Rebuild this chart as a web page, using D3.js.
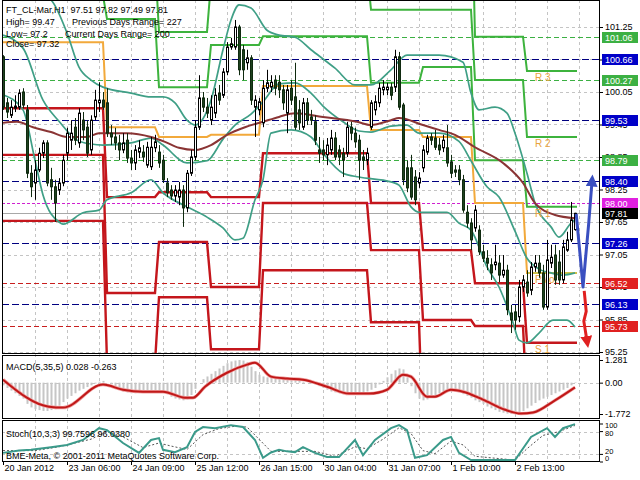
<!DOCTYPE html>
<html><head><meta charset="utf-8">
<script src="https://cdnjs.cloudflare.com/ajax/libs/d3/7.8.5/d3.min.js"></script>
<style>
body{margin:0;background:#fff}
svg{display:block}
text{font-family:"Liberation Sans",Arial,sans-serif;font-size:9px;fill:#000}
</style></head><body>
<svg id="c" width="640" height="480"></svg>
<script>
// ---------------- DATA ----------------
const headerLines = [["FT_CL-Mar,H1  97.51 97.82 97.49 97.81",""],["High= 99.47","Previous Days Range= 227"],["Low= 97.2","Current Days Range= 200"],["Close= 97.32",""]];
const timeLabels = ["20 Jan 2012","23 Jan 06:00","24 Jan 09:00","25 Jan 12:00","26 Jan 15:00","30 Jan 04:00","31 Jan 07:00","1 Feb 10:00","2 Feb 13:00"];
const timeIdx = [0,16,32,48,64,80,96,112,128];
const priceTicks = [101.25,100.65,100.05,99.45,98.85,98.25,97.65,97.05,96.45,95.85,95.25];

const open = [100.70,99.85,99.62,99.75,99.77,100.05,99.72,98.55,98.37,98.61,
98.92,99.11,98.43,98.30,98.24,98.37,98.92,99.16,99.40,99.11,
99.53,99.40,98.98,99.59,99.85,99.90,99.85,99.29,99.22,99.11,
98.98,99.16,98.83,98.74,98.94,98.94,98.70,98.67,99.02,98.94,
98.79,98.37,98.24,98.13,98.11,98.24,97.91,98.55,98.85,99.40,
99.94,99.77,99.53,99.66,100.03,99.99,100.42,100.88,100.88,101.25,
100.83,100.59,100.68,99.77,99.72,99.48,100.12,100.14,100.27,100.23,
100.09,99.66,100.12,99.96,99.72,99.40,99.85,99.59,99.50,98.98,
98.98,98.89,98.98,99.20,98.98,98.92,98.92,99.40,99.29,99.16,
98.85,98.79,99.40,99.72,99.85,100.09,100.09,100.14,100.14,100.70,
99.81,98.65,98.65,98.48,98.37,98.65,98.94,99.22,99.20,99.07,
99.02,99.02,98.76,98.61,98.61,98.43,97.83,97.63,97.54,97.50,
97.10,96.98,96.86,96.86,96.89,96.67,96.76,95.97,95.99,95.90,
96.45,96.54,96.39,96.82,96.89,96.71,96.08,96.89,97.04,96.91,
96.58,97.13,97.32,97.51];
const high = [100.73,99.94,99.90,99.99,100.10,100.12,99.81,98.70,98.79,99.02,
99.16,99.16,98.65,98.43,98.46,98.89,99.39,99.53,99.57,99.75,
99.68,99.53,99.62,100.09,100.23,100.05,100.12,99.44,99.39,99.26,
99.29,99.29,98.98,99.07,99.16,99.07,99.13,99.22,99.26,99.07,
98.89,98.46,98.33,98.33,98.39,98.33,98.61,98.98,99.53,100.36,
100.05,99.94,99.99,100.12,100.18,100.49,100.97,101.05,101.38,101.29,
100.92,100.83,100.73,99.99,99.94,100.27,100.46,100.36,100.36,100.36,
100.18,100.18,100.27,100.59,99.90,99.94,99.94,99.72,99.62,99.22,
99.16,99.20,99.35,99.31,99.07,99.02,99.50,99.50,99.39,99.26,
98.98,99.02,99.90,99.99,100.22,100.27,100.22,100.22,100.83,100.79,
99.85,98.79,98.89,98.61,98.57,99.07,99.26,99.29,99.35,99.20,
99.26,99.44,98.89,98.70,98.70,98.52,97.96,97.72,97.96,97.59,
97.23,97.13,96.98,97.23,97.04,97.04,96.86,96.12,96.12,96.58,
96.67,96.76,96.91,97.04,97.04,96.86,97.32,97.23,97.23,97.13,
97.32,97.47,98.02,97.82];
const low = [99.72,99.57,99.57,99.68,99.72,99.75,98.46,98.11,98.06,98.57,
98.83,98.31,98.06,97.65,98.15,98.31,98.79,98.98,99.07,99.02,
99.16,98.85,98.89,99.53,99.68,99.72,99.22,99.07,98.98,98.79,
98.92,98.74,98.61,98.61,98.83,98.76,98.65,98.61,98.94,98.65,
98.37,98.11,98.06,98.02,97.96,97.56,97.83,98.50,98.79,99.35,
99.68,99.57,99.44,99.57,99.81,99.94,100.36,100.83,100.83,100.36,
100.27,100.46,99.81,99.22,99.62,99.40,100.05,100.05,99.99,99.94,
99.72,99.29,99.81,99.35,99.35,99.35,99.44,99.44,99.07,98.74,
98.79,98.70,98.89,98.79,98.70,98.48,98.85,99.16,99.02,98.43,
98.61,98.70,99.35,99.62,99.77,99.99,99.99,99.90,100.05,99.72,
98.33,98.20,98.06,97.96,98.28,98.57,98.89,99.07,98.98,98.89,
98.94,98.67,98.46,98.48,98.33,97.82,97.54,97.13,97.47,97.04,
96.91,96.76,96.58,96.76,96.54,96.62,95.93,95.60,95.66,95.80,
96.36,96.27,96.30,96.73,96.62,96.03,96.03,96.80,96.49,96.49,
96.52,97.10,97.28,97.49];
const close = [99.77,99.68,99.77,99.79,100.03,99.81,98.55,98.30,98.61,98.92,
99.11,98.37,98.30,98.00,98.37,98.79,99.29,99.29,99.16,99.66,
99.35,98.92,99.53,99.90,99.90,99.77,99.29,99.22,99.11,98.98,
99.11,98.83,98.74,98.98,99.02,98.85,99.03,99.03,99.13,98.74,
98.43,98.19,98.13,98.24,98.24,97.91,98.55,98.85,99.40,99.94,
99.77,99.66,99.77,99.99,99.90,100.42,100.88,100.94,101.25,100.46,
100.46,100.68,99.90,99.90,99.87,100.12,100.22,100.23,100.12,100.09,
99.85,100.09,99.90,99.40,99.48,99.85,99.53,99.53,99.16,98.92,
98.89,99.07,99.20,98.85,98.85,98.79,99.40,99.29,99.13,98.79,
98.79,98.92,99.85,99.87,100.12,100.14,100.14,99.99,100.70,99.77,
98.43,98.28,98.11,98.06,98.46,98.98,99.20,99.16,99.03,98.98,
99.16,98.74,98.55,98.57,98.43,97.87,97.63,97.32,97.87,97.10,
96.98,96.89,96.71,96.91,96.67,96.76,96.03,95.84,95.84,96.45,
96.58,96.34,96.82,96.89,96.71,96.08,96.95,97.00,96.58,96.58,
97.19,97.32,97.69,97.81];

// Bollinger bands and moving average, vertices [bar index, price]
const bbUpper = [[0,102.21],[7,101.93],[12,101.75],[16,101.14],[19,100.51],[22,100.27],[25,100.14],[32,100.03],[37,99.96],[40,99.96],[43,99.85],[46,99.53],[48,99.44],[52,99.90],[55,100.83],[57,101.38],[59,101.66],[62,101.60],[66,101.19],[69,101.10],[73,101.06],[77,100.83],[83,100.49],[88,100.18],[92,100.18],[97,100.46],[101,100.73],[109,100.73],[115,100.60],[117,100.03],[119,99.72],[123,99.77],[126,99.66],[128,99.29],[131,98.55],[133,98.00],[137,97.56],[139,97.37],[142,97.63],[143,97.69]];
const bbMiddle = [[0,101.10],[5,100.86],[10,99.90],[14,99.51],[19,99.14],[25,99.07],[32,99.11],[37,99.20],[40,99.07],[46,98.74],[51,98.78],[55,99.18],[58,99.44],[62,99.64],[65,99.87],[69,100.20],[73,100.22],[77,100.03],[80,99.79],[85,99.50],[89,99.33],[92,99.31],[97,99.42],[101,99.44],[104,99.29],[109,99.29],[114,99.14],[117,98.78],[121,98.30],[124,98.11],[128,97.48],[131,96.98],[134,96.78],[137,96.71],[140,96.67],[143,96.71]];
const bbLower = [[0,100.00],[5,99.72],[8,98.79],[10,98.15],[14,97.65],[15,97.61],[20,97.82],[24,97.87],[26,98.06],[32,98.19],[37,98.43],[40,98.19],[46,97.93],[51,97.74],[55,97.54],[58,97.32],[60,97.35],[63,98.06],[65,98.43],[67,99.29],[72,99.35],[77,99.22],[80,98.92],[85,98.55],[89,98.48],[97,98.39],[99,98.33],[102,97.93],[104,97.83],[111,97.83],[114,97.63],[117,97.50],[121,96.82],[124,96.45],[127.5,95.79],[129,95.47],[131,95.42],[134,95.60],[137.5,95.84],[141,95.84],[143,95.71]];
const maLine = [[0,99.48],[3.5,99.50],[7.5,99.40],[12,99.31],[16,99.22],[21,99.22],[24,99.29],[31,99.29],[37,99.22],[40.5,99.13],[44,99.02],[48,98.98],[52,99.07],[56,99.26],[60.5,99.40],[65,99.50],[69,99.59],[73,99.66],[80,99.59],[88.5,99.50],[92,99.44],[97,99.53],[99,99.57],[105,99.44],[109,99.35],[113,99.26],[118,99.03],[125,98.74],[130,98.37],[133,98.00],[138,97.78],[143,97.72]];

// daily pivot levels per segment
const segStart = [0,26,39,52,65,92,105,118,131];
const levP  = [100.97,99.40,99.22,99.26,100.16,99.35,99.22,98.00,96.71];
const levR1 = [101.83,101.40,100.14,100.92,101.08,100.22,100.51,98.79,97.93];
const levR2 = [102.70,102.50,101.16,102.07,102.32,101.57,101.57,100.27,99.22];
const levR3 = [103.50,104.00,102.08,103.70,103.20,102.44,104.30,101.07,100.44];
const levS1 = [99.75,98.11,98.20,98.11,98.92,98.00,97.13,96.52,95.42];
const levS2 = [98.89,96.34,97.28,96.45,98.00,97.13,95.84,95.73,94.20];
const levS3 = [97.67,95.05,96.26,95.30,96.76,95.80,93.70,94.26,93.00];
const lastDayNames = ["R 3","R 2","R 1","Pivot","S 1"];

// horizontal marked levels (value, kind)
const markLevels = [101.06,100.66,100.27,99.53,98.79,98.40,98.00,97.81,97.26,96.52,96.13,95.73];
const markKinds  = ["r","m","r","m","r","m","p","bid","m","s","m","s"];

// forecast arrows
const arrowUp = [[143.3,97.80],[144.2,97.10],[145,96.45],[145.6,96.95],[146.4,97.60],[147.2,98.35]];
const arrowDown = [[145.3,96.38],[145.8,96.00],[145.2,95.82],[145.9,95.50]];

// MACD
const macdLabel = "MACD(5,35,5) 0.028 -0.263";
const macdTicks = [1.281,0,-1.772];
const macdTickText = ["1.281","0.00","-1.772"];
const macdHist = [-0.15,-0.3,-0.45,-0.6,-0.75,-0.9,-1.2,-1.4,-1.5,-1.55,-1.6,-1.6,-1.55,-1.5,-1.3,-1.1,-0.9,-0.75,-0.6,-0.45,-0.35,-0.25,-0.15,-0.05,0.05,0.1,
0.0,-0.1,-0.25,-0.4,-0.5,-0.55,-0.6,-0.6,-0.55,-0.5,-0.45,
-0.45,-0.45,-0.5,-0.55,-0.65,-0.8,-0.9,-0.95,-1.0,-0.95,-0.7,
-0.35,0.0,
0.2,0.35,0.5,0.65,0.8,0.95,
1.1,1.2,1.25,1.28,1.25,1.15,
0.9,0.65,0.45,0.35,0.3,0.3,
0.3,0.25,0.25,0.2,0.2,0.15,0.1,0.05,0.0,-0.05,-0.1,
-0.2,-0.3,-0.4,-0.5,-0.55,-0.6,-0.65,-0.65,-0.6,-0.6,-0.6,-0.55,-0.5,
-0.4,-0.3,-0.1,0.1,0.3,0.5,0.7,0.8,0.75,0.3,-0.2,-0.6,
-0.9,-1.0,-0.95,-0.85,-0.75,-0.6,-0.5,-0.45,-0.45,-0.5,-0.55,-0.65,-0.75,
-0.85,-1.0,-1.1,-1.2,-1.35,-1.45,-1.55,-1.65,-1.7,-1.75,-1.77,-1.75,-1.7,-1.6,
-1.45,-1.3,-1.15,-1.0,-0.9,-0.8,-0.7,-0.6,-0.5,-0.4,-0.3,-0.15,0.028];
const macdSignal = [[0,0.17],[11.5,-1.36],[15,-1.41],[25,-0.11],[30,-0.40],[35,-0.51],[40,-0.51],[45.5,-0.85],[47.5,-0.85],[50.5,-0.23],[56,0.56],[61,1.02],[63,1.13],[67,0.34],[71,0.23],[75,0.17],[81,-0.23],[86.5,-0.62],[91.5,-0.62],[96,-0.40],[100,0.45],[102,0.34],[106,-0.79],[108,-0.79],[112,-0.40],[115,-0.51],[120,-0.96],[125.5,-1.53],[129.5,-1.75],[132.5,-1.69],[138,-1.0],[143,-0.263]];

// Stochastic
const stochLabel = "Stoch(10,3,3) 99.7596 96.0380";
const copyright = "BME-Meta, \u00a9 2001-2011 MetaQuotes Software Corp.";
const stochTicks = [100,80,20,0];
const stochMain = [[0,24],[4,30],[7,32],[10,36],[12,39],[16,45],[20,58],[24,89],[26,84],[30,50],[34,24],[37,58],[39,63],[40,32],[43,26],[46,39],[48,79],[50,92],[53,89],[57,97],[60,92],[63,58],[65,11],[67,25],[69,32],[71,28],[73,26],[75,39],[78,24],[81,13],[84,13],[88,58],[90,18],[93,58],[97,89],[99,97],[101,84],[103,11],[106,18],[110,58],[112,66],[114,24],[117,5],[122,5],[128,5],[132,66],[136,89],[138,66],[140,89],[143,99.76]];
const stochSignal = [[0,30],[8,30],[14,40],[22,60],[26,80],[30,66],[35,38],[39,50],[42,42],[46,33],[50,72],[54,88],[58,94],[61,92],[64,60],[67,28],[72,28],[78,28],[83,15],[88,40],[91,35],[95,60],[99,90],[102,75],[105,30],[108,22],[112,55],[115,45],[118,15],[128,5],[131,35],[135,70],[139,80],[143,96.04]];

// ---------------- DRAW ----------------
const svg = d3.select("#c");
const L = 2, R = 600;
const P = {main:[0,354], macd:[355,419], stoch:[420,462]};
const x = d3.scaleLinear().domain([0,143]).range([3,575]);
const y = d3.scaleLinear().domain([95.25,101.25]).range([352,27]);
const ym = d3.scaleLinear().domain([-1.772,1.281]).range([414,360]);
const ys = d3.scaleLinear().domain([0,100]).range([462,424]);

const defs = svg.append("defs");
Object.entries(P).forEach(([k,[t,b]])=>{
  defs.append("clipPath").attr("id","clip-"+k).append("rect").attr("x",L).attr("y",t).attr("width",R-L).attr("height",b-t);
});
function marker(id,color){
  defs.append("marker").attr("id",id).attr("viewBox","0 0 10 10").attr("refX",2).attr("refY",5)
    .attr("markerWidth",4).attr("markerHeight",4).attr("orient","auto")
    .append("path").attr("d","M0,0L10,5L0,10z").attr("fill",color);
}
marker("arrBlue","#3a4fc0"); marker("arrRed","#e02020");

svg.append("rect").attr("width",640).attr("height",480).attr("fill","#fff");

// vertical grid
const gridIdx = d3.range(8,150,8);
svg.append("g").selectAll("line").data(gridIdx).join("line")
  .attr("x1",d=>Math.round(x(d))+0.5).attr("x2",d=>Math.round(x(d))+0.5)
  .attr("y1",0).attr("y2",P.stoch[1])
  .attr("stroke","#c4c4c4").attr("stroke-dasharray","3,3");

// main panel
const gm = svg.append("g").attr("clip-path","url(#clip-main)");
gm.selectAll("line.hg").data(priceTicks).join("line")
  .attr("x1",L).attr("x2",R).attr("y1",d=>Math.round(y(d))+0.5).attr("y2",d=>Math.round(y(d))+0.5)
  .attr("stroke","#c4c4c4").attr("stroke-dasharray","3,3");

const kindStyle = {
  r:{c:"#3cb043",d:"5,3",box:"#3cb043"},
  m:{c:"#000080",d:"7,3",box:"#0000c8"},
  p:{c:"#d020d0",d:"3,2",box:"#e020e0"},
  s:{c:"#c81e1e",d:"5,3",box:"#e02020"},
  bid:{c:"#a8a8a8",d:null,box:"#000"}
};
gm.selectAll("line.lv").data(markLevels).join("line")
  .attr("x1",L).attr("x2",R)
  .attr("y1",d=>Math.round(y(d))+0.5).attr("y2",d=>Math.round(y(d))+0.5)
  .attr("stroke",(d,i)=>kindStyle[markKinds[i]].c)
  .attr("stroke-dasharray",(d,i)=>kindStyle[markKinds[i]].d);

// pivot step lines
function stepVerts(vals){
  const v=[];
  vals.forEach((val,k)=>{
    const s=segStart[k], e=(k<segStart.length-1?segStart[k+1]-1:143.5);
    v.push([s,val],[e,val]);
  });
  return v;
}
const lin = d3.line().x(d=>x(d[0])).y(d=>y(d[1]));
[levS3,levS2,levS1].forEach(v=>{
  gm.append("path").attr("d",lin(stepVerts(v))).attr("fill","none").attr("stroke","#c4161c").attr("stroke-width",2.4);
});
[levR3,levR2,levR1].forEach(v=>{
  gm.append("path").attr("d",lin(stepVerts(v))).attr("fill","none").attr("stroke","#3db33d").attr("stroke-width",2);
});
gm.append("path").attr("d",lin(stepVerts(levP))).attr("fill","none").attr("stroke","#f2a93b").attr("stroke-width",2);
const lastK = segStart.length-1;
gm.append("path").attr("d",lin([[segStart[lastK],levP[lastK]],[143.5,levP[lastK]]]))
  .attr("fill","none").attr("stroke","#cfc24a").attr("stroke-width",2);

// Bollinger + MA
const smooth = d3.line().x(d=>x(d[0])).y(d=>y(d[1])).curve(d3.curveMonotoneX);
[bbUpper,bbMiddle,bbLower].forEach(b=>{
  gm.append("path").attr("d",smooth(b)).attr("fill","none").attr("stroke","#3f9f86").attr("stroke-width",1.7);
});
gm.append("path").attr("d",smooth(maLine)).attr("fill","none").attr("stroke","#8a3434").attr("stroke-width",2);

// last day labels
const lastVals = [levR3[lastK],levR2[lastK],levR1[lastK],levP[lastK],levS1[lastK]];
gm.selectAll("text.dl").data(lastDayNames).join("text")
  .attr("x",x(segStart[lastK])+8).attr("y",(d,i)=>y(lastVals[i])+10)
  .style("font-size","10px").style("fill","#e8a33c").text(d=>d);

// candles
const bars = open.map((o,i)=>({i,o,h:high[i],l:low[i],c:close[i]}));
gm.selectAll("line.wk").data(bars).join("line")
  .attr("x1",d=>Math.round(x(d.i))+0.5).attr("x2",d=>Math.round(x(d.i))+0.5)
  .attr("y1",d=>y(d.h)).attr("y2",d=>y(d.l))
  .attr("stroke",d=>d.c>=d.o?"#000":"#0f2a0f");
gm.selectAll("rect.bd").data(bars).join("rect")
  .attr("x",d=>Math.round(x(d.i))-0.5).attr("width",2)
  .attr("y",d=>y(Math.max(d.o,d.c))).attr("height",d=>Math.max(0.6,Math.abs(y(d.o)-y(d.c))))
  .attr("fill",d=>d.c>=d.o?"#fff":"#1e421e").attr("stroke",d=>d.c>=d.o?"#000":"#0f2a0f");

// arrows
gm.append("path").attr("d",lin(arrowUp)).attr("fill","none").attr("stroke","#3a4fc0").attr("stroke-width",3)
  .attr("stroke-linejoin","round").attr("marker-end","url(#arrBlue)");
gm.append("path").attr("d",lin(arrowDown)).attr("fill","none").attr("stroke","#e02020").attr("stroke-width",3)
  .attr("stroke-linejoin","round").attr("marker-end","url(#arrRed)");

// header text
headerLines.forEach((ln,i)=>{
  const by = [13,25,37,47][i];
  svg.append("text").attr("x",6).attr("y",by).style("white-space","pre").text(ln[0]);
  if(ln[1]) svg.append("text").attr("x",i===1?72:65).attr("y",by).text(ln[1]);
});

// MACD panel
const gmc = svg.append("g").attr("clip-path","url(#clip-macd)");
gmc.selectAll("line.hg").data([0]).join("line")
  .attr("x1",L).attr("x2",R).attr("y1",d=>Math.round(ym(d))+0.5).attr("y2",d=>Math.round(ym(d))+0.5)
  .attr("stroke","#c4c4c4").attr("stroke-dasharray","3,3");
gmc.selectAll("rect.h").data(macdHist).join("rect")
  .attr("x",(d,i)=>Math.round(x(i))-0.5).attr("width",2)
  .attr("y",d=>Math.min(ym(d),ym(0))).attr("height",d=>Math.abs(ym(d)-ym(0)))
  .attr("fill","#c6c6c6");
const lm = d3.line().x(d=>x(d[0])).y(d=>ym(d[1])).curve(d3.curveMonotoneX);
gmc.append("path").attr("d",lm(macdSignal)).attr("fill","none").attr("stroke","#f0a0a0").attr("stroke-width",3.4);
gmc.append("path").attr("d",lm(macdSignal)).attr("fill","none").attr("stroke","#c01818").attr("stroke-width",2);
svg.append("text").attr("x",6).attr("y",370).text(macdLabel);

// Stoch panel
const gs = svg.append("g").attr("clip-path","url(#clip-stoch)");
gs.selectAll("line.hg").data([80,20]).join("line")
  .attr("x1",L).attr("x2",R).attr("y1",d=>Math.round(ys(d))+0.5).attr("y2",d=>Math.round(ys(d))+0.5)
  .attr("stroke","#c4c4c4").attr("stroke-dasharray","3,3");
const ls = d3.line().x(d=>x(d[0])).y(d=>ys(d[1]));
gs.append("path").attr("d",ls(stochSignal)).attr("fill","none").attr("stroke","#555").attr("stroke-width",1).attr("stroke-dasharray","2,2");
gs.append("path").attr("d",ls(stochMain)).attr("fill","none").attr("stroke","#3a9a8a").attr("stroke-width",2);
svg.append("text").attr("x",6).attr("y",437).text(stochLabel);
svg.append("text").attr("x",6).attr("y",459).text(copyright);

// panel borders
Object.values(P).forEach(([t,b])=>{
  svg.append("rect").attr("x",L+0.5).attr("y",t+0.5).attr("width",R-L-1).attr("height",b-t-1)
    .attr("fill","none").attr("stroke","#000");
});

// right axes
const ax = svg.append("g").attr("transform",`translate(${R},0)`)
  .call(d3.axisRight(y).tickValues(priceTicks).tickSize(3).tickPadding(2).tickFormat(d3.format(".2f")));
ax.select(".domain").remove();
ax.selectAll("text").style("font-size","9px");
const boxes = svg.append("g");
markLevels.forEach((v,i)=>{
  const st = kindStyle[markKinds[i]];
  const yy = Math.round(y(v));
  boxes.append("rect").attr("x",R+2).attr("y",yy-5).attr("width",36).attr("height",11).attr("fill",st.box);
  boxes.append("text").attr("x",R+5).attr("y",yy+3.5).style("fill","#fff").text(d3.format(".2f")(v));
});
const am = svg.append("g").attr("transform",`translate(${R},0)`)
  .call(d3.axisRight(ym).tickValues(macdTicks).tickSize(3).tickPadding(2).tickFormat((d,i)=>macdTickText[i]));
am.select(".domain").remove();
am.selectAll("text").style("font-size","9px");
// stoch scale: the panel is too short for four labels, so they are nudged apart
const stochLabelY = d=>d===100?426:d===80?433.5:d===20?451.5:459;
const as = svg.append("g").attr("transform",`translate(${R},0)`)
  .call(d3.axisRight(ys).tickValues(stochTicks).tickSize(3).tickPadding(2));
as.select(".domain").remove();
as.selectAll(".tick line").attr("transform",d=>`translate(0,${ys(d)-stochLabelY(d)})`);
as.selectAll(".tick").attr("transform",d=>`translate(0,${stochLabelY(d)})`);
as.selectAll("text").style("font-size","7.5px");

// time axis
const axb = svg.append("g").attr("transform",`translate(0,${P.stoch[1]})`)
  .call(d3.axisBottom(x).tickValues(timeIdx).tickSize(3).tickPadding(0).tickFormat((d,i)=>timeLabels[i]));
axb.select(".domain").remove();
axb.selectAll("text").attr("text-anchor","start").attr("dx",1).style("font-size","9px");
</script></body></html>
